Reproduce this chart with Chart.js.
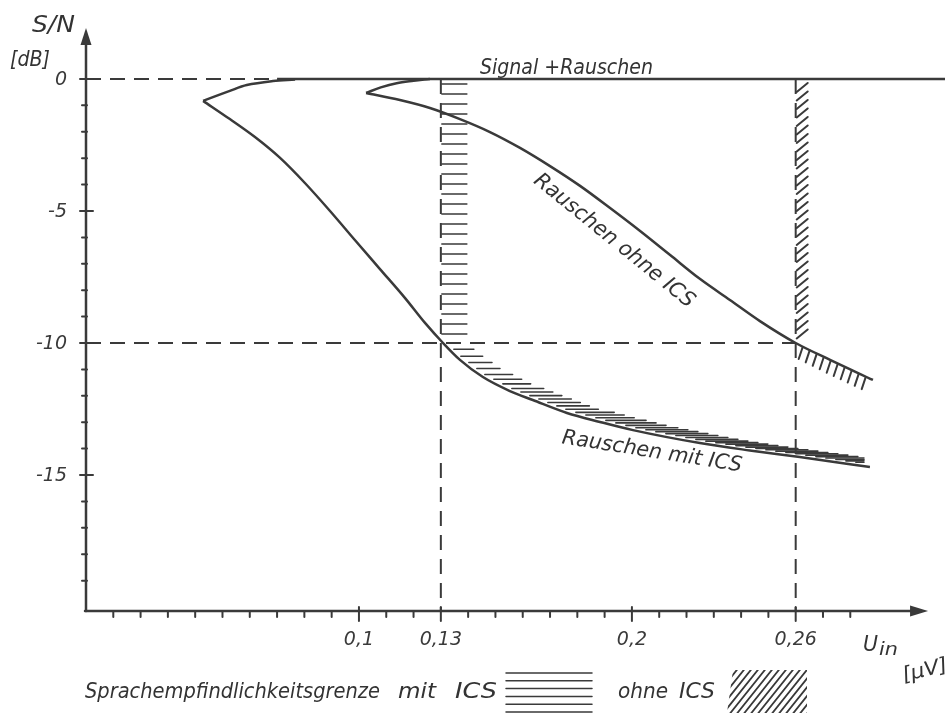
<!DOCTYPE html>
<html>
<head>
<meta charset="utf-8">
<script src="https://cdn.jsdelivr.net/npm/chart.js@4"></script>
<style>
  html, body { margin: 0; padding: 0; background: #fff; }
  #wrap { width: 951px; height: 715px; }
</style>
</head>
<body>
<div id="wrap"><canvas id="snChart"></canvas></div>
<script>
// axis ticks
const uTickVals = [0.1, 0.13, 0.2, 0.26];
const uTickLabels = ['0,1', '0,13', '0,2', '0,26'];
const snTickVals = [0, -5, -10, -15];
const snTickLabels = ['0', '-5', '-10', '-15'];

// Signal + Rauschen (0 dB line) and the two hooks leading into it
const signalU = [0.07, 0.3147];
const signalSN = [0, 0];
const mitHookU = [0.0429, 0.0527, 0.0589, 0.0685, 0.0766];
const mitHookSN = [-0.83, -0.45, -0.23, -0.08, -0.02];
const ohneHookU = [0.1026, 0.108, 0.1138, 0.12, 0.126];
const ohneHookSN = [-0.53, -0.32, -0.16, -0.07, 0];

// Rauschen mit ICS
const mitU = [0.0429, 0.0527, 0.0619, 0.0711, 0.0802, 0.0894, 0.0985, 0.1077, 0.1169, 0.1242, 0.1308, 0.137, 0.1454, 0.1553, 0.1637, 0.1762, 0.1883, 0.2004, 0.2249, 0.2432, 0.2615, 0.2872];
const mitSN = [-0.83, -1.52, -2.2, -2.99, -3.94, -5.0, -6.1, -7.2, -8.3, -9.24, -10.0, -10.64, -11.29, -11.82, -12.16, -12.65, -12.99, -13.3, -13.79, -14.07, -14.32, -14.7];

// Rauschen ohne ICS
const ohneU = [0.1026, 0.115, 0.126, 0.137, 0.148, 0.159, 0.17, 0.181, 0.192, 0.203, 0.214, 0.225, 0.2359, 0.2469, 0.26, 0.2726, 0.2883];
const ohneSN = [-0.53, -0.8, -1.1, -1.52, -2.01, -2.61, -3.3, -4.05, -4.89, -5.76, -6.67, -7.58, -8.37, -9.17, -10.0, -10.64, -11.4];

// sensitivity limits (dashed guides)
const limitU = [0.13, 0.26];
const limitSN = -10;

const uMin = 0, uMax = 0.3147, uAxisEnd = 0.3085;
const snMin = -20.15, snMax = 1.93;

const ink = '#3a3a3a';

const pts = (xs, ys) => xs.map((u, i) => ({ x: u, y: ys[i] }));

function interp(xs, ys, u) {
  for (let i = 0; i < xs.length - 1; i++) {
    if (u >= xs[i] && u <= xs[i + 1]) {
      const t = (u - xs[i]) / (xs[i + 1] - xs[i]);
      return ys[i] + t * (ys[i + 1] - ys[i]);
    }
  }
  return ys[ys.length - 1];
}

function fitText(ctx, str, left, base, width, size) {
  ctx.font = `italic ${size}px "DejaVu Sans"`;
  const w = ctx.measureText(str).width;
  ctx.save();
  ctx.translate(left, base);
  ctx.scale(width / w, 1);
  ctx.textAlign = 'left';
  ctx.textBaseline = 'alphabetic';
  ctx.fillText(str, 0, 0);
  ctx.restore();
}

function rotText(ctx, str, cx, cy, angle, width, size) {
  ctx.font = `italic ${size}px "DejaVu Sans"`;
  const w = ctx.measureText(str).width;
  ctx.save();
  ctx.translate(cx, cy);
  ctx.rotate(angle * Math.PI / 180);
  ctx.scale(width / w, 1);
  ctx.textAlign = 'center';
  ctx.textBaseline = 'middle';
  ctx.fillText(str, 0, 0);
  ctx.restore();
}

function seg(ctx, x1, y1, x2, y2) {
  ctx.beginPath();
  ctx.moveTo(x1, y1);
  ctx.lineTo(x2, y2);
  ctx.stroke();
}

const drawing = {
  id: 'drawing',
  afterDatasetsDraw(chart) {
    const { ctx, scales: { x, y } } = chart;
    const px = u => x.getPixelForValue(u);
    const py = v => y.getPixelForValue(v);
    const x0 = px(0), yb = py(snMin);

    ctx.save();
    ctx.strokeStyle = ink;
    ctx.fillStyle = ink;
    ctx.lineCap = 'round';

    // axes
    ctx.lineWidth = 2.5;
    seg(ctx, x0, yb, x0, py(snMax) + 12);
    seg(ctx, x0 - 1, yb, px(uAxisEnd) - 14, yb);
    ctx.beginPath();
    ctx.moveTo(x0, py(snMax));
    ctx.lineTo(x0 - 5.5, py(snMax) + 17);
    ctx.lineTo(x0 + 5.5, py(snMax) + 17);
    ctx.closePath();
    ctx.fill();
    ctx.beginPath();
    ctx.moveTo(px(uAxisEnd), yb);
    ctx.lineTo(px(uAxisEnd) - 18, yb - 5.5);
    ctx.lineTo(px(uAxisEnd) - 18, yb + 5.5);
    ctx.closePath();
    ctx.fill();

    // ticks
    ctx.lineWidth = 2;
    for (let v = 0; v >= -19; v--) {
      const major = snTickVals.includes(v);
      seg(ctx, x0 - (major ? 6 : 4), py(v), x0 + (major ? 7 : 1), py(v));
    }
    for (let k = 1; k <= 28; k++) {
      const u = k / 100;
      const major = uTickVals.some(t => Math.abs(t - u) < 1e-6);
      seg(ctx, px(u), yb - (major ? 4 : 0), px(u), yb + (major ? 10 : 6));
    }

    // tick labels
    ctx.font = 'italic 19px "DejaVu Sans"';
    ctx.textAlign = 'center';
    ctx.textBaseline = 'alphabetic';
    uTickVals.forEach((u, i) => ctx.fillText(uTickLabels[i], px(u), 645));
    ctx.textAlign = 'right';
    ctx.textBaseline = 'middle';
    snTickVals.forEach((v, i) => ctx.fillText(snTickLabels[i], 67, py(v) + 1));

    // hatching: mit ICS (horizontal)
    ctx.lineWidth = 1.6;
    const xm = px(limitU[0]);
    for (let yy = py(0) + 5; yy < py(limitSN) - 3; yy += 10) {
      seg(ctx, xm + 1, yy, xm + 26, yy);
    }
    const mitEnd = px(mitU[mitU.length - 1]) - 6;
    let acc = 0, prev = null;
    for (let X = xm + 4; X <= mitEnd; X += 1) {
      const Y = py(interp(mitU, mitSN, x.getValueForPixel(X)));
      if (prev) acc += Math.hypot(X - prev[0], Y - prev[1]);
      prev = [X, Y];
      if (acc >= 9.5) {
        acc = 0;
        const Y2 = py(interp(mitU, mitSN, x.getValueForPixel(X + 3)));
        const slope = Math.max(Math.abs(Y2 - Y) / 3, 0.12);
        const L = Math.min(mitEnd - X - 2, 42, 20 / Math.sqrt(slope));
        if (L > 8) seg(ctx, X + 2, Y - 2.5, X + 2 + L, Y - 2.5);
      }
    }

    // hatching: ohne ICS (diagonal)
    ctx.lineWidth = 2;
    const xo = px(limitU[1]);
    for (let yy = py(0) + 8; yy <= py(limitSN) - 2; yy += 8.5) {
      seg(ctx, xo + 1, yy + 5, xo + 12, yy - 4);
    }
    for (let X = xo + 6; X <= px(ohneU[ohneU.length - 1]) - 2; X += 7) {
      const Y = py(interp(ohneU, ohneSN, x.getValueForPixel(X)));
      seg(ctx, X + 1, Y + 1, X - 3, Y + 13);
    }

    // texts
    ctx.fillStyle = '#333';
    fitText(ctx, 'S/N', 32, 32, 43, 23);
    fitText(ctx, '[dB]', 10, 66, 40, 21);
    fitText(ctx, 'Signal +Rauschen', 480, 74, 173, 22);
    rotText(ctx, 'Rauschen ohne ICS', 614, 241, 39, 200, 21);
    rotText(ctx, 'Rauschen mit ICS', 652, 452, 9, 182, 21);
    fitText(ctx, 'U', 863, 651, 15, 22);
    fitText(ctx, 'in', 879, 655, 19, 17);
    rotText(ctx, '[µV]', 925, 671, -14, 46, 20);

    // bottom legend
    fitText(ctx, 'Sprachempfindlichkeitsgrenze', 85, 698, 295, 22);
    fitText(ctx, 'mit', 398, 698, 38, 22);
    fitText(ctx, 'ICS', 455, 698, 42, 22);
    fitText(ctx, 'ohne', 618, 698, 50, 22);
    fitText(ctx, 'ICS', 679, 698, 36, 22);
    ctx.lineWidth = 1.5;
    for (let yy = 673; yy <= 712; yy += 7.8) seg(ctx, 506, yy, 592, yy);
    ctx.save();
    ctx.beginPath();
    ctx.moveTo(733, 670); ctx.lineTo(807, 670); ctx.lineTo(807, 713); ctx.lineTo(727, 713);
    ctx.closePath();
    ctx.clip();
    ctx.lineWidth = 1.8;
    for (let xx = 700; xx <= 820; xx += 7) seg(ctx, xx, 716, xx + 40, 666);
    ctx.restore();

    ctx.restore();
  }
};

const dashed = [15, 9];
const curve = (data, extra) => Object.assign({
  data, showLine: true, pointRadius: 0, borderColor: ink, borderWidth: 2.5,
  tension: 0.35, fill: false
}, extra || {});

new Chart(document.getElementById('snChart'), {
  type: 'scatter',
  data: {
    datasets: [
      curve(pts([0, signalU[0]], [0, 0]), { borderDash: dashed, borderWidth: 2, tension: 0 }),
      curve(pts([0, limitU[1]], [limitSN, limitSN]), { borderDash: dashed, borderWidth: 2, tension: 0 }),
      curve(pts([limitU[0], limitU[0]], [0, snMin]), { borderDash: dashed, borderWidth: 2, tension: 0 }),
      curve(pts([limitU[1], limitU[1]], [0, snMin]), { borderDash: dashed, borderWidth: 2, tension: 0 }),
      curve(pts(signalU, signalSN), { label: 'Signal + Rauschen', tension: 0 }),
      curve(pts(mitHookU, mitHookSN), { label: 'Signal + Rauschen mit ICS' }),
      curve(pts(ohneHookU, ohneHookSN), { label: 'Signal + Rauschen ohne ICS' }),
      curve(pts(mitU, mitSN), { label: 'Rauschen mit ICS', cubicInterpolationMode: 'monotone' }),
      curve(pts(ohneU, ohneSN), { label: 'Rauschen ohne ICS', cubicInterpolationMode: 'monotone' })
    ]
  },
  options: {
    responsive: true,
    maintainAspectRatio: false,
    animation: false,
    layout: { padding: { left: 86, right: 6, top: 28, bottom: 104 } },
    scales: {
      x: { type: 'linear', min: uMin, max: uMax, display: false },
      y: { type: 'linear', min: snMin, max: snMax, display: false }
    },
    plugins: { legend: { display: false }, tooltip: { enabled: false } }
  },
  plugins: [drawing]
});
</script>
</body>
</html>
